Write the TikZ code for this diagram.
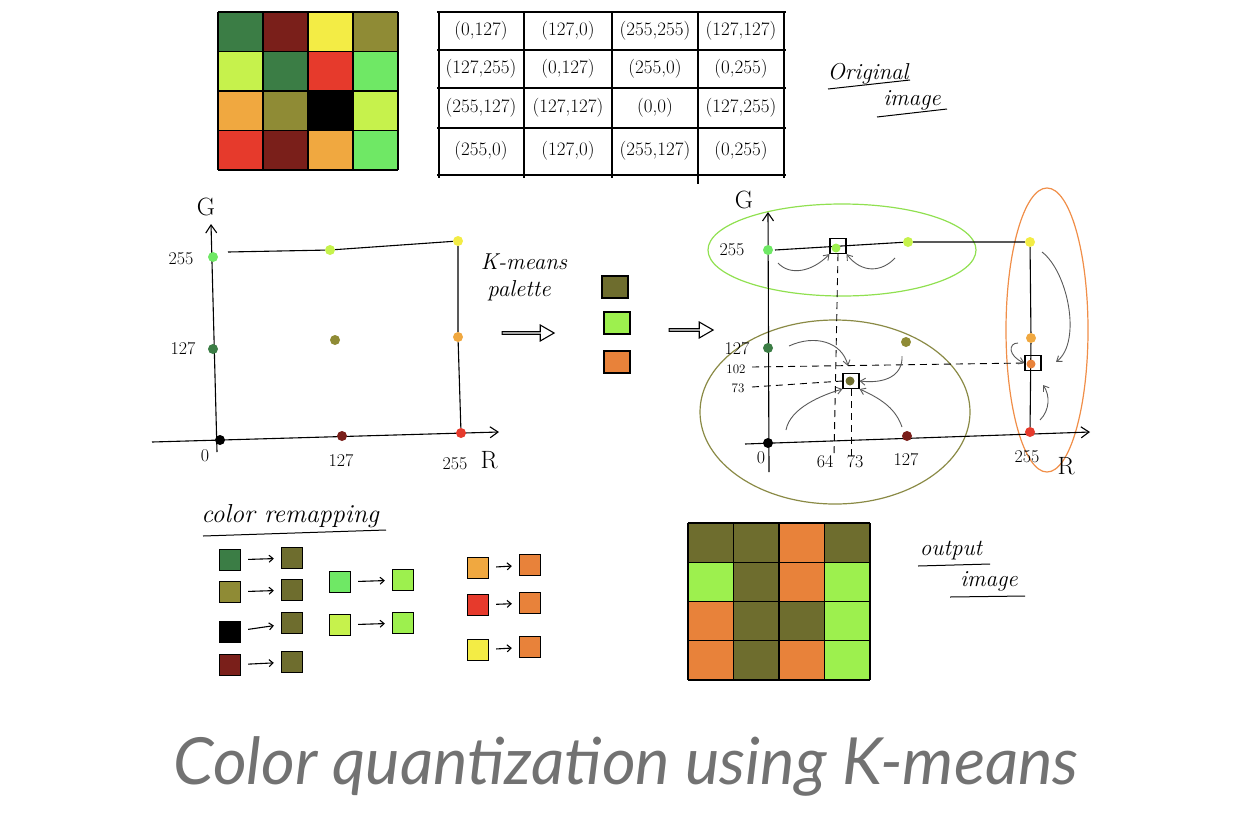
\documentclass[tikz,border=0pt]{standalone}
\usepackage{fontspec}
\newfontfamily\titlefont{Lato}
\usetikzlibrary{arrows.meta,shapes.arrows,calc}
\definecolor{cdg}{HTML}{3B7D45}
\definecolor{cdr}{HTML}{7A1F1A}
\definecolor{cye}{HTML}{F3EC45}
\definecolor{col}{HTML}{8F8B35}
\definecolor{cli}{HTML}{C6F24C}
\definecolor{crd}{HTML}{E63A2C}
\definecolor{cgr}{HTML}{6FE865}
\definecolor{cor}{HTML}{F0A840}
\definecolor{cbk}{HTML}{000000}
\definecolor{pol}{HTML}{6E6D2E}
\definecolor{pli}{HTML}{9DF04E}
\definecolor{por}{HTML}{E8823A}
\definecolor{egr}{HTML}{90E050}
\definecolor{eol}{HTML}{8A8A45}
\definecolor{eor}{HTML}{F08E48}
\definecolor{ttl}{HTML}{727272}
\tikzset{
  gridl/.style={line width=1.3pt, black},
  dot/.style={circle, inner sep=0pt, minimum size=10pt, draw=none},
  cent/.style={draw, line width=1.1pt, minimum width=16pt, minimum height=15pt, inner sep=0pt},
  swatch/.style={draw, line width=1.3pt, minimum width=21pt, minimum height=21pt, inner sep=0pt},
  lbl/.style={font=\fontsize{18}{18}\selectfont, inner sep=1pt},
  slbl/.style={font=\fontsize{13}{13}\selectfont, inner sep=1pt},
  axl/.style={font=\fontsize{25}{25}\selectfont, inner sep=1pt},
  tbl/.style={font=\fontsize{19}{19}\selectfont, inner sep=1pt},
  hand/.style={font=\fontsize{23}{23}\selectfont\itshape, inner sep=1pt},
  curv/.style={draw=black!65, line width=0.9pt, -{Straight Barb[length=5pt,width=7pt]}},
  axis/.style={line width=1.1pt, -{Straight Barb[length=8pt,width=11pt]}},
  remap/.style={line width=1.1pt, -{Straight Barb[length=4pt,width=7pt]}, shorten <=7pt, shorten >=7pt},
  bigarrow/.style={single arrow, draw, line width=1.1pt, minimum height=52pt, minimum width=16pt,
    single arrow head extend=3pt, inner sep=0pt, single arrow tip angle=60},
  dsh/.style={line width=0.9pt, dash pattern=on 7pt off 5pt},
}
\begin{document}
\begin{tikzpicture}[x=1pt,y=-1pt]
\useasboundingbox (0,0) rectangle (1260,836);

% ---------- original image ----------
\foreach \c [count=\i from 0] in {cdg,cdr,cye,col, cli,cdg,crd,cgr, cor,col,cbk,cli, crd,cdr,cor,cgr} {
  \pgfmathtruncatemacro\cc{mod(\i,4)}
  \pgfmathtruncatemacro\rr{div(\i,4)}
  \fill[\c] (218+45*\cc, 12+39.5*\rr) rectangle ++(45,39.5);
}
\foreach \k in {0,...,4} {
  \draw[gridl] (218+45*\k, 12) -- (218+45*\k, 170);
  \draw[gridl] (218, 12+39.5*\k) -- (398, 12+39.5*\k);
}

% ---------- table ----------
\draw[gridl] (437,12) -- (786,12);
\foreach \yy in {50,88,128,175} \draw[gridl] (437,\yy) -- (786,\yy);
\foreach \xx in {439,524,612,784} \draw[gridl] (\xx,12) -- (\xx,178);
\draw[gridl] (698,12) -- (698,184);
\foreach \r/\yy in {1/31,2/69,3/108,4/151} {
  \foreach \cc/\xx in {1/481,2/568,3/655,4/741} {
    \coordinate (tc\r\cc) at (\xx,\yy);
  }
}
\node[tbl] (t11) at (tc11) {(0,127)};
\node[tbl] (t12) at (tc12) {(127,0)};
\node[tbl] (t13) at (tc13) {(255,255)};
\node[tbl] (t14) at (tc14) {(127,127)};
\node[tbl] (t21) at (tc21) {(127,255)};
\node[tbl] (t22) at (tc22) {(0,127)};
\node[tbl] (t23) at (tc23) {(255,0)};
\node[tbl] (t24) at (tc24) {(0,255)};
\node[tbl] (t31) at (tc31) {(255,127)};
\node[tbl] (t32) at (tc32) {(127,127)};
\node[tbl] (t33) at (tc33) {(0,0)};
\node[tbl] (t34) at (tc34) {(127,255)};
\node[tbl] (t41) at (tc41) {(255,0)};
\node[tbl] (t42) at (tc42) {(127,0)};
\node[tbl] (t43) at (tc43) {(255,127)};
\node[tbl] (t44) at (tc44) {(0,255)};

\node[hand] (orig) at (868,74) {Original};
\node[hand] (origimg) at (912,100) {image};
\draw[line width=1pt] (828,89) -- (910,80);
\draw[line width=1pt] (877,117) -- (947,109);

% ---------- left plot ----------
\coordinate (LGb) at (217,452);
\coordinate (LGt) at (211,224);
\coordinate (LRl) at (152,442);
\coordinate (LRr) at (499,432);
\coordinate (Ltl) at (228,252);
\draw[axis] (LGb) -- (LGt);
\draw[axis] (LRl) -- (LRr);
\node[dot, fill=cbk] (L00) at (220,440) {};
\node[dot, fill=cdr] (L10) at (342,436) {};
\node[dot, fill=crd] (L20) at (461,433) {};
\node[dot, fill=cdg] (L01) at (213,349) {};
\node[dot, fill=col] (L11) at (335,340) {};
\node[dot, fill=cor] (L21) at (458,337) {};
\node[dot, fill=cgr] (L02) at (213,257) {};
\node[dot, fill=cli] (L12) at (330,250) {};
\node[dot, fill=cye] (L22) at (458,241) {};
\draw[line width=1.1pt] (Ltl) -- (L12) -- (L22);
\draw[line width=1.1pt] (L22) -- (L21) -- (L20);
\node[axl] (lG) at (206,207) {G};
\node[lbl] (l255) at (181,259) {255};
\node[lbl] (l127) at (183,349) {127};
\node[lbl] (l0) at (205,456) {0};
\node[lbl] (l127r) at (341,461) {127};
\node[lbl] (l255r) at (455,464) {255};
\node[axl] (lR) at (489,460) {R};

% ---------- palette ----------
\node[hand] (km) at (524,262) {K-means};
\node[hand] (pal) at (519,291) {palette};
\node[bigarrow] (ar1) at (527,333) {};
\node[swatch, fill=pol, minimum width=26pt, minimum height=22pt] (P1) at (615,287) {};
\node[swatch, fill=pli, minimum width=26pt, minimum height=22pt] (P2) at (617,323) {};
\node[swatch, fill=por, minimum width=26pt, minimum height=22pt] (P3) at (617,362) {};
\node[bigarrow, minimum height=44pt] (ar2) at (690,330) {};

% ---------- right plot ----------
\draw[egr, line width=1.2pt] (842,250) ellipse [x radius=134, y radius=46];
\draw[eol, line width=1.2pt] (835,412) ellipse [x radius=135, y radius=92];
\draw[eor, line width=1.2pt] (1047,330) ellipse [x radius=41, y radius=142];
\coordinate (RGb) at (769,472);
\coordinate (RGt) at (768,212);
\coordinate (RRl) at (745,444);
\coordinate (RRr) at (1090,432);
\coordinate (Rtl) at (775,250);
\draw[axis] (RGb) -- (RGt);
\draw[axis] (RRl) -- (RRr);
\node[dot, fill=cbk] (R00) at (768,443) {};
\node[dot, fill=cdr] (R10) at (907,436) {};
\node[dot, fill=crd] (R20) at (1030,432) {};
\node[dot, fill=cdg] (R01) at (768,348) {};
\node[dot, fill=col] (R11) at (906,342) {};
\node[dot, fill=cor] (R21) at (1031,338) {};
\node[dot, fill=cgr] (R02) at (768,250) {};
\node[dot, fill=cli] (R12) at (908,242) {};
\node[dot, fill=cye] (R22) at (1030,242) {};
\draw[line width=1.1pt] (Rtl) -- (R12) -- (R22);
\draw[line width=1.1pt] (R22) -- (R21) -- (R20);
\node[cent] (C1) at (838,246) {};
\node[dot, fill=pli, minimum size=9pt] (C1d) at (836,248) {};
\node[cent] (C2) at (851,381) {};
\node[dot, fill=pol, minimum size=9pt] (C2d) at (850,381) {};
\node[cent] (C3) at (1033,363) {};
\node[dot, fill=por, minimum size=9pt] (C3d) at (1031,364) {};
\coordinate (X64) at (834,456);
\coordinate (X73) at (851,456);
\coordinate (Y102) at (752,367);
\coordinate (Y73) at (752,387);
\draw[dsh] (C1.south) -- (X64);
\draw[dsh] (C2.south) -- (X73);
\draw[dsh] (Y102) -- (C3.west);
\draw[dsh] (Y73) -- (C2.west);
\node[axl] (rG) at (744,200) {G};
\node[lbl] (r255) at (732,250) {255};
\node[lbl] (r127) at (737,349) {127};
\node[slbl] (r102) at (736,369) {102};
\node[slbl] (r73) at (738,388) {73};
\node[lbl] (r0) at (761,458) {0};
\node[lbl] (r64) at (825,462) {64};
\node[lbl] (r73x) at (855,462) {73};
\node[lbl] (r127x) at (906,460) {127};
\node[lbl] (r255x) at (1027,457) {255};
\node[axl] (rR) at (1066,466) {R};
% curved arrows towards centroids
\coordinate (a1s) at (778,263);
\coordinate (a2s) at (895,258);
\coordinate (a3s) at (789,346);
\coordinate (a4s) at (902,356);
\coordinate (a5s) at (786,430);
\coordinate (a6s) at (902,427);
\coordinate (a7s) at (1042,252);
\coordinate (a8s) at (1040,420);
\coordinate (a9s) at (1018,343);
\draw[curv] (a1s) .. controls (790,276) and (812,272) .. (C1.south west);
\draw[curv] (a2s) .. controls (882,272) and (862,274) .. (C1.south east);
\draw[curv] (a3s) .. controls (815,334) and (842,342) .. (848,366);
\draw[curv] (a4s) .. controls (903,375) and (886,384) .. (C2.east);
\draw[curv] (a5s) .. controls (790,408) and (822,395) .. (C2.south west);
\draw[curv] (a6s) .. controls (896,410) and (884,400) .. (C2.south east);
\draw[curv] (a7s) .. controls (1068,272) and (1082,342) .. (1056,362);
\draw[curv] (a8s) .. controls (1050,410) and (1050,395) .. (1043,385);
\draw[curv] (a9s) .. controls (1008,343) and (1008,356) .. (C3.west);

% ---------- color remapping ----------
\node[hand, font=\fontsize{26}{26}\selectfont\itshape] (cr) at (290,516) {color remapping};
\draw[line width=1pt] (203,536) -- (386,530);
\node[swatch, fill=cdg] (s1) at (230,560) {};
\node[swatch, fill=col] (s2) at (230,592) {};
\node[swatch, fill=cbk] (s3) at (230,632) {};
\node[swatch, fill=cdr] (s4) at (230,665) {};
\node[swatch, fill=pol] (d1) at (292,558) {};
\node[swatch, fill=pol] (d2) at (292,590) {};
\node[swatch, fill=pol] (d3) at (292,623) {};
\node[swatch, fill=pol] (d4) at (292,662) {};
\node[swatch, fill=cgr] (s5) at (340,582) {};
\node[swatch, fill=cli] (s6) at (340,625) {};
\node[swatch, fill=pli] (d5) at (403,580) {};
\node[swatch, fill=pli] (d6) at (403,623) {};
\node[swatch, fill=cor] (s7) at (478,568) {};
\node[swatch, fill=crd] (s8) at (478,605) {};
\node[swatch, fill=cye] (s9) at (478,650) {};
\node[swatch, fill=por] (d7) at (530,565) {};
\node[swatch, fill=por] (d8) at (530,603) {};
\node[swatch, fill=por] (d9) at (530,647) {};
\foreach \i in {1,...,9} \draw[remap] (s\i) -- (d\i);

% ---------- output image ----------
\foreach \c [count=\i from 0] in {pol,pol,por,pol, pli,pol,por,pli, por,pol,pol,pli, por,pol,por,pli} {
  \pgfmathtruncatemacro\cc{mod(\i,4)}
  \pgfmathtruncatemacro\rr{div(\i,4)}
  \fill[\c] (688+45.5*\cc, 523+39.25*\rr) rectangle ++(45.5,39.25);
}
\foreach \k in {0,...,4} {
  \draw[gridl] (688+45.5*\k, 523) -- (688+45.5*\k, 680);
  \draw[gridl] (688, 523+39.25*\k) -- (870, 523+39.25*\k);
}
\node[hand] (outp) at (951,551) {output};
\node[hand] (outimg) at (989,581) {image};
\draw[line width=1pt] (918,566) -- (990,564);
\draw[line width=1pt] (950,597) -- (1025,596);

% ---------- title ----------
\node[font=\titlefont\itshape\fontsize{65}{65}\selectfont, text=ttl] (title) at (626,766) {Color quantization using K-means};
\end{tikzpicture}
\end{document}
